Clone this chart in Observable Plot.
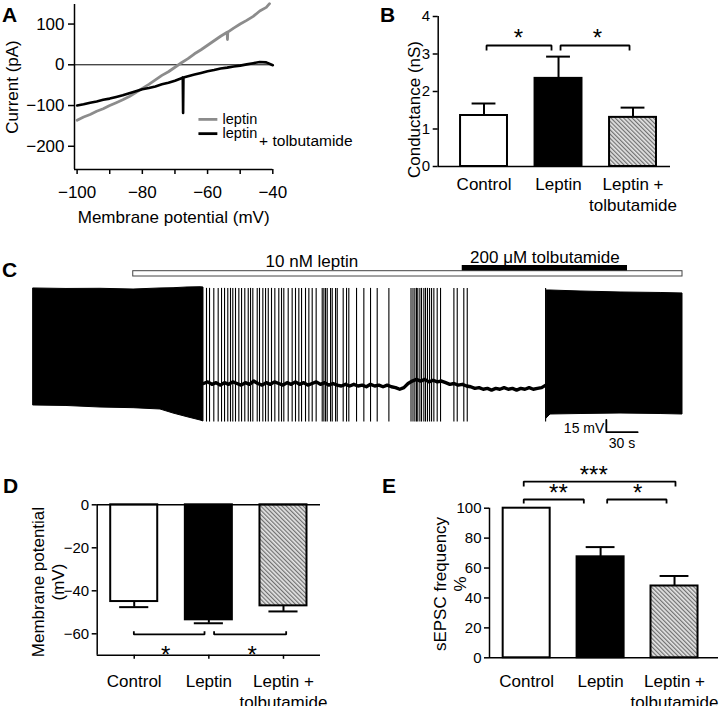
<!DOCTYPE html>
<html><head><meta charset="utf-8">
<script src="https://cdn.jsdelivr.net/npm/d3@7"></script>
<script src="https://cdn.jsdelivr.net/npm/@observablehq/plot@0.6"></script>
<style>
body{margin:0;background:#fff;}
#fig{position:relative;width:720px;height:706px;overflow:hidden;background:#fff;}
.layer{position:absolute;left:0;top:0;width:720px;height:706px;}
</style></head>
<body>
<svg width="0" height="0" style="position:absolute">
  <defs>
    <pattern id="hatch" patternUnits="userSpaceOnUse" width="3" height="3" patternTransform="rotate(-45)">
      <rect width="3" height="3" fill="#e4e4e4"></rect>
      <line x1="0.6" y1="0" x2="0.6" y2="3" stroke="#707070" stroke-width="1.2"></line>
    </pattern>
  </defs>
</svg>
<div id="fig"></div>
<script>
// ---------------- DATA ----------------
// Panel A: I-V relations (membrane potential mV, current pA)
const ivLeptinV = [-100,-98,-96,-94,-92,-90,-88,-86,-84,-82,-80,-78,-76,-74,-72,-70,-68,-66,-64,-62,-60,-58,-56,-54,-53.9,-53.8,-52,-50,-48,-46,-44,-42,-41];
const ivLeptinI = [-136,-128,-122,-114,-108,-100,-93,-86,-78,-68,-58,-48,-37,-26,-17,-6,5,15,27,37,48,59,70,80,62,80,90,100,109,119,132,141,150];
const ivTolbV = [-100,-98,-96,-94,-92,-90,-88,-86,-84,-82,-80,-78,-76,-74,-72,-70,-68,-67.6,-67.5,-67.4,-66,-64,-62,-60,-58,-56,-54,-52,-50,-48,-46,-44,-42,-40];
const ivTolbI = [-100,-97,-93,-90,-86,-83,-79,-75,-70,-65,-60,-57,-53,-48,-44,-39,-33,-31,-118,-31,-28,-24,-20,-16,-13,-9,-7,-4,-2,1,4,7,6,-1];
const ivXTicks = [-100,-80,-60,-40];
const ivXMinor = [-90,-70,-50];
const ivYTicks = [100,0,-100,-200];

// Bar charts (B, D, E)
const categories = ["Control", "Leptin", "Leptin +\ntolbutamide"];
const conductance = [1.36, 2.35, 1.31];          // nS
const conductanceSEM = [0.32, 0.58, 0.26];
const restingPotential = [-45, -53.5, -47];       // mV
const restingPotentialSEM = [2.6, 1.6, 2.6];
const sepscFrequency = [100, 67.5, 48];          // %
const sepscFrequencySEM = [0, 6.5, 6.7];

// Panel C: current-clamp trace (time s, voltage mV)
const block1T  = [0, 31.6, 64.2, 95.9, 121.7, 134.2, 147.6, 160.1, 162.9];
const block1Hi = [65.9, 65.3, 65.5, 64.6, 65.9, 66.2, 67.1, 67.4, 67.1];
const block1Lo = [-76.8, -77.4, -79.3, -80.1, -81.7, -86.6, -91.1, -95.1, -96.3];
const block2T  = [491.7, 495.5, 524.3, 562.6, 601.0, 622];
const block2Hi = [63.4, 63.4, 62.2, 61.0, 60.4, 59.8];
const block2Lo = [-92.7, -87.8, -87.2, -86.6, -87.2, -87.8];
const baseT = [163,167,171,175,179,183,187,191,195,199,203,207,211,215,219,223,227,231,235,239,243,247,251,255,259,263,267,271,275,279,283,287,291,295,299,303,307,311,315,319,323,327,331,335,339,343,347,351,355,359,363,367,371,375,379,383,387,391,395,399,403,407,411,415,419,423,427,431,435,439,443,447,451,455,459,463,467,471,475,479,483,487,491];
const baseV = [-50,-48,-51,-49,-52,-49,-51,-48,-50,-52,-49,-51,-47,-50,-52,-49,-51,-48,-50,-52,-49,-51,-48,-51,-49,-52,-50,-48,-51,-49,-52,-50,-52,-53,-51,-53,-51,-53,-52,-54,-51,-53,-52,-54,-52,-54,-55,-57,-55,-50,-47,-45,-47,-45,-48,-46,-48,-47,-49,-51,-50,-52,-51,-53,-54,-56,-55,-57,-56,-58,-56,-57,-55,-57,-56,-58,-56,-57,-55,-57,-56,-55,-52];
const spikeTimes = [165.8,168.7,172.8,177.0,180.2,183.1,186.2,188.8,191.0,193.6,196.8,199.4,202.5,205.8,208.0,210.2,214.4,216.6,219.8,222.4,225.0,228.1,231.3,235.1,237.7,239.9,244.1,247.9,251.1,254.3,256.9,260.7,263.9,267.1,270.9,276.7,278.3,279.9,281.5,284.7,286.3,289.5,291.1,296.8,300.0,302.2,309.6,316.6,323.0,329.4,340.6,361.8,363.7,365.5,367.1,368.3,370.3,371.9,374.1,375.7,377.6,379.6,381.5,383.7,386.9,390.1,402.9,406.1,412.4,415.7,490.8];
const spikePeak = 66, spikeTrough = -97;
const drugNames = ["10 nM leptin", "200 μM tolbutamide"];
const drugStart = [95.6, 410.9];
const drugEnd = [622, 569.3];
const scaleBarT = 30, scaleBarV = 15; // s, mV

// ---------------- DRAWING ----------------
const W = 720, H = 706;
const FONT = '"Liberation Sans", Arial, Helvetica, sans-serif';
const baseStyle = {fontFamily: FONT, fontSize: "15px", background: "transparent", overflow: "visible"};
const fmt = d3.format("d");
const fig = document.getElementById("fig");
function place(el) { const d = document.createElement("div"); d.className = "layer"; d.appendChild(el); fig.appendChild(d); }
function frame(L, R, T, B) { return {width: W, height: H, marginLeft: L, marginRight: W - R, marginTop: T, marginBottom: H - B}; }
const centered = {textAnchor: "middle", lineAnchor: "middle"};

// ---- Panel A ----
const ivX = [-100.8, -40], ivY = [-257, 148];
const leptinRows = ivLeptinV.map((v, k) => ({v, i: ivLeptinI[k]}));
const tolbRows = ivTolbV.map((v, k) => ({v, i: ivTolbI[k]}));
const legendRows = [
  {name: "leptin", extra: "", color: "#8c8c8c", y: -134},
  {name: "leptin", extra: "+ tolbutamide", color: "#000", y: -169}
];
place(Plot.plot({
  ...frame(74, 272.3, 4, 169),
  style: baseStyle,
  x: {domain: ivX}, y: {domain: ivY}, color: {type: "identity"},
  marks: [
    Plot.ruleY([0], {strokeWidth: 1}),
    Plot.line(leptinRows, {x: "v", y: "i", stroke: "#8c8c8c", strokeWidth: 2.8}),
    Plot.line(tolbRows, {x: "v", y: "i", stroke: "#000", strokeWidth: 2.6}),
    Plot.ruleX([ivX[0]], {strokeWidth: 1.5}),
    Plot.ruleY([ivY[0]], {strokeWidth: 1.5}),
    Plot.axisY({ticks: ivYTicks, tickFormat: fmt, tickSize: 6, tickPadding: 4, fontSize: 17, strokeWidth: 1.5, label: null}),
    Plot.axisX({ticks: ivXTicks, tickFormat: fmt, tickSize: 5, tickPadding: 11, fontSize: 17, strokeWidth: 1.5, label: null}),
    Plot.axisX({ticks: ivXMinor, tickFormat: () => "", tickSize: 5, strokeWidth: 1.5, label: null}),
    Plot.text(["Current (pA)"], {frameAnchor: "left", dx: -61.5, rotate: -90, fontSize: 17, ...centered}),
    Plot.text(["Membrane potential (mV)"], {frameAnchor: "bottom", dy: 48, fontSize: 17, ...centered}),
    Plot.link(legendRows, {x1: () => -62.8, x2: () => -57, y1: "y", y2: "y", stroke: "color", strokeWidth: 2.8}),
    Plot.text(legendRows, {x: () => -55.4, y: "y", text: "name", textAnchor: "start", fontSize: 14.5}),
    Plot.text(legendRows, {x: () => -44.2, y: "y", text: "extra", textAnchor: "start", dy: 7, fontSize: 15.5})
  ]
}));

// ---- Bar panels ----
const barFills = ["white", "black", "url(#hatch)"];
function barPanel(o) {
  const rows = categories.map((name, i) => ({i, name, value: o.values[i], err: o.errors[i], fill: barFills[i]}));
  const sgn = o.errDown ? -1 : 1;
  const errRows = rows.filter(d => d.err > 0);
  const bPts = o.brackets.flatMap((b, k) => [
    {k, x: b.x1, y: b.tick}, {k, x: b.x1, y: b.y}, {k, x: b.x2, y: b.y}, {k, x: b.x2, y: b.tick}]);
  const marks = [
    Plot.rect(rows, {x1: d => d.i - o.halfW, x2: d => d.i + o.halfW, y1: () => 0, y2: "value", fill: "fill", stroke: "black", strokeWidth: 2}),
    Plot.ruleX(errRows, {x: "i", y1: "value", y2: d => d.value + sgn * d.err, strokeWidth: 2}),
    Plot.ruleY(errRows, {y: d => d.value + sgn * d.err, x1: d => d.i - o.capHalf, x2: d => d.i + o.capHalf, strokeWidth: 2}),
    Plot.line(bPts, {x: "x", y: "y", z: "k", strokeWidth: 1.8, strokeLinejoin: "miter", strokeLinecap: "butt"}),
    Plot.text(o.brackets, {x: "sx", y: "y", text: "label", fontSize: 24, dy: o.starDy}),
    Plot.ruleX([o.xDomain[0]], {strokeWidth: 1.5}),
    ...o.hLines.map(v => Plot.ruleY([v], {strokeWidth: 1.5})),
    Plot.axisY({ticks: o.yTicks, tickFormat: fmt, tickSize: 5, tickPadding: 3, fontSize: 15, strokeWidth: 1.5, label: null}),
    Plot.text(rows, {x: "i", text: "name", frameAnchor: "bottom", textAnchor: "middle", lineAnchor: "top", dy: o.catDy, fontSize: 17, lineHeight: 1.25}),
    Plot.text([o.ylabel], {frameAnchor: "left", dx: o.ylabelDx, dy: o.ylabelDy, rotate: -90, fontSize: 17, lineHeight: 1.15, ...centered})
  ];
  if (o.xTicks) marks.push(Plot.axisX({ticks: [0, 1, 2], tickFormat: () => "", tickSize: 4, strokeWidth: 1.5, label: null}));
  return Plot.plot({
    ...frame(...o.box),
    style: baseStyle,
    x: {domain: o.xDomain, axis: o.xTicks ? undefined : null},
    y: {domain: o.yDomain},
    color: {type: "identity"},
    marks
  });
}

// B
place(barPanel({
  values: conductance, errors: conductanceSEM, errDown: false,
  box: [437.7, 670, 16, 166], xDomain: [-0.615, 2.503], yDomain: [0, 4], yTicks: [0, 1, 2, 3, 4],
  halfW: 0.315, capHalf: 0.16, hLines: [0], catDy: 8,
  ylabel: "Conductance (nS)", ylabelDx: -24.4, ylabelDy: 18,
  brackets: [
    {x1: 0.034, x2: 0.906, y: 3.227, tick: 3.093, sx: 0.463, label: "*"},
    {x1: 1.027, x2: 1.953, y: 3.227, tick: 3.093, sx: 1.523, label: "*"}
  ],
  starDy: -6.7
}));

// D
place(barPanel({
  values: restingPotential, errors: restingPotentialSEM, errDown: true,
  box: [96.7, 320, 504.3, 654.8], xDomain: [-0.496, 2.496], yDomain: [-70, 0], yTicks: [0, -20, -40, -60],
  halfW: 0.315, capHalf: 0.195, hLines: [0, -70], catDy: 16.5, xTicks: true,
  ylabel: "Membrane potential\n(mV)", ylabelDx: -49.7, ylabelDy: 2,
  brackets: [
    {x1: -0.005, x2: 0.942, y: -60.3, tick: -58.8, sx: 0.42, label: "*"},
    {x1: 1.07, x2: 2.036, y: -60.3, tick: -58.8, sx: 1.58, label: "*"}
  ],
  starDy: 21
}));

// E
place(barPanel({
  values: sepscFrequency, errors: sepscFrequencySEM, errDown: false,
  box: [489, 718, 507.7, 657.3], xDomain: [-0.503, 2.595], yDomain: [0, 100], yTicks: [0, 20, 40, 60, 80, 100],
  halfW: 0.318, capHalf: 0.195, hLines: [0], catDy: 14,
  ylabel: "sEPSC frequency\n%", ylabelDx: -40, ylabelDy: 1,
  brackets: [
    {x1: -0.04, x2: 2.013, y: 117.8, tick: 114.5, sx: 0.908, label: "***"},
    {x1: -0.04, x2: 0.773, y: 105.8, tick: 103.1, sx: 0.43, label: "**"},
    {x1: 1.089, x2: 1.892, y: 105.8, tick: 103.1, sx: 1.5, label: "*"}
  ],
  starDy: -6
}));

// ---- Panel C ----
const tDomain = [0, 622], vDomain = [-137.8, 106.1];
const block1 = block1T.map((t, k) => ({t, hi: block1Hi[k], lo: block1Lo[k]}));
const block2 = block2T.map((t, k) => ({t, hi: block2Hi[k], lo: block2Lo[k]}));
const baseline = baseT.map((t, k) => ({t, v: baseV[k]}));
const sbT = 549, sbV = -109.4;
place(Plot.plot({
  ...frame(33, 682, 255, 455),
  style: baseStyle,
  x: {domain: tDomain, axis: null}, y: {domain: vDomain, axis: null},
  marks: [
    Plot.areaY(block1, {x: "t", y1: "lo", y2: "hi", fill: "black", stroke: "black", strokeWidth: 1}),
    Plot.areaY(block2, {x: "t", y1: "lo", y2: "hi", fill: "black", stroke: "black", strokeWidth: 1}),
    Plot.ruleX(spikeTimes, {x: d => d, y1: () => spikeTrough, y2: () => spikePeak, strokeWidth: 1.1}),
    Plot.line(baseline, {x: "t", y: "v", strokeWidth: 3.4}),
    Plot.line([[sbT, sbV + scaleBarV], [sbT, sbV], [sbT + scaleBarT, sbV]], {x: d => d[0], y: d => d[1], strokeWidth: 1.8, strokeLinejoin: "miter"}),
    Plot.text([`${scaleBarV} mV`], {x: () => sbT, y: () => sbV, textAnchor: "end", dx: -2, dy: -4, fontSize: 14}),
    Plot.text([`${scaleBarT} s`], {x: () => sbT + scaleBarT / 2, y: () => sbV, dy: 11.5, fontSize: 14})
  ]
}));
// drug application bars
const drugs = drugNames.map((name, k) => ({name, start: drugStart[k], end: drugEnd[k]}));
place(Plot.plot({
  ...frame(33, 682, 255, 280),
  style: baseStyle,
  x: {domain: tDomain, axis: null},
  marks: [
    Plot.rect(drugs.slice(0, 1), {x1: "start", x2: "end", insetTop: 15.7, insetBottom: 4, fill: "white", stroke: "#444", strokeWidth: 1}),
    Plot.rect(drugs.slice(1, 2), {x1: "start", x2: "end", insetTop: 10, insetBottom: 9.5, fill: "black"}),
    Plot.text(drugs.slice(0, 1), {x: "start", text: "name", frameAnchor: "top", textAnchor: "start", lineAnchor: "middle", dx: 132.3, dy: 6, fontSize: 17}),
    Plot.text(drugs.slice(1, 2), {x: d => (d.start + d.end) / 2, text: "name", frameAnchor: "top", textAnchor: "middle", lineAnchor: "middle", dy: 2.5, fontSize: 17})
  ]
}));

// ---- panel letters ----
const letters = [{t: "A", x: 2, y: 21.7}, {t: "B", x: 380, y: 21.7}, {t: "C", x: 2, y: 276.5}, {t: "D", x: 3, y: 493}, {t: "E", x: 382, y: 493}];
const ov = d3.create("svg").attr("width", W).attr("height", H)
  .style("position", "absolute").style("left", "0").style("top", "0")
  .style("font-family", FONT).style("font-weight", "bold").style("font-size", "21px");
ov.selectAll("text").data(letters).join("text").attr("x", d => d.x).attr("y", d => d.y).text(d => d.t);
fig.appendChild(ov.node());
</script>
</body></html>
